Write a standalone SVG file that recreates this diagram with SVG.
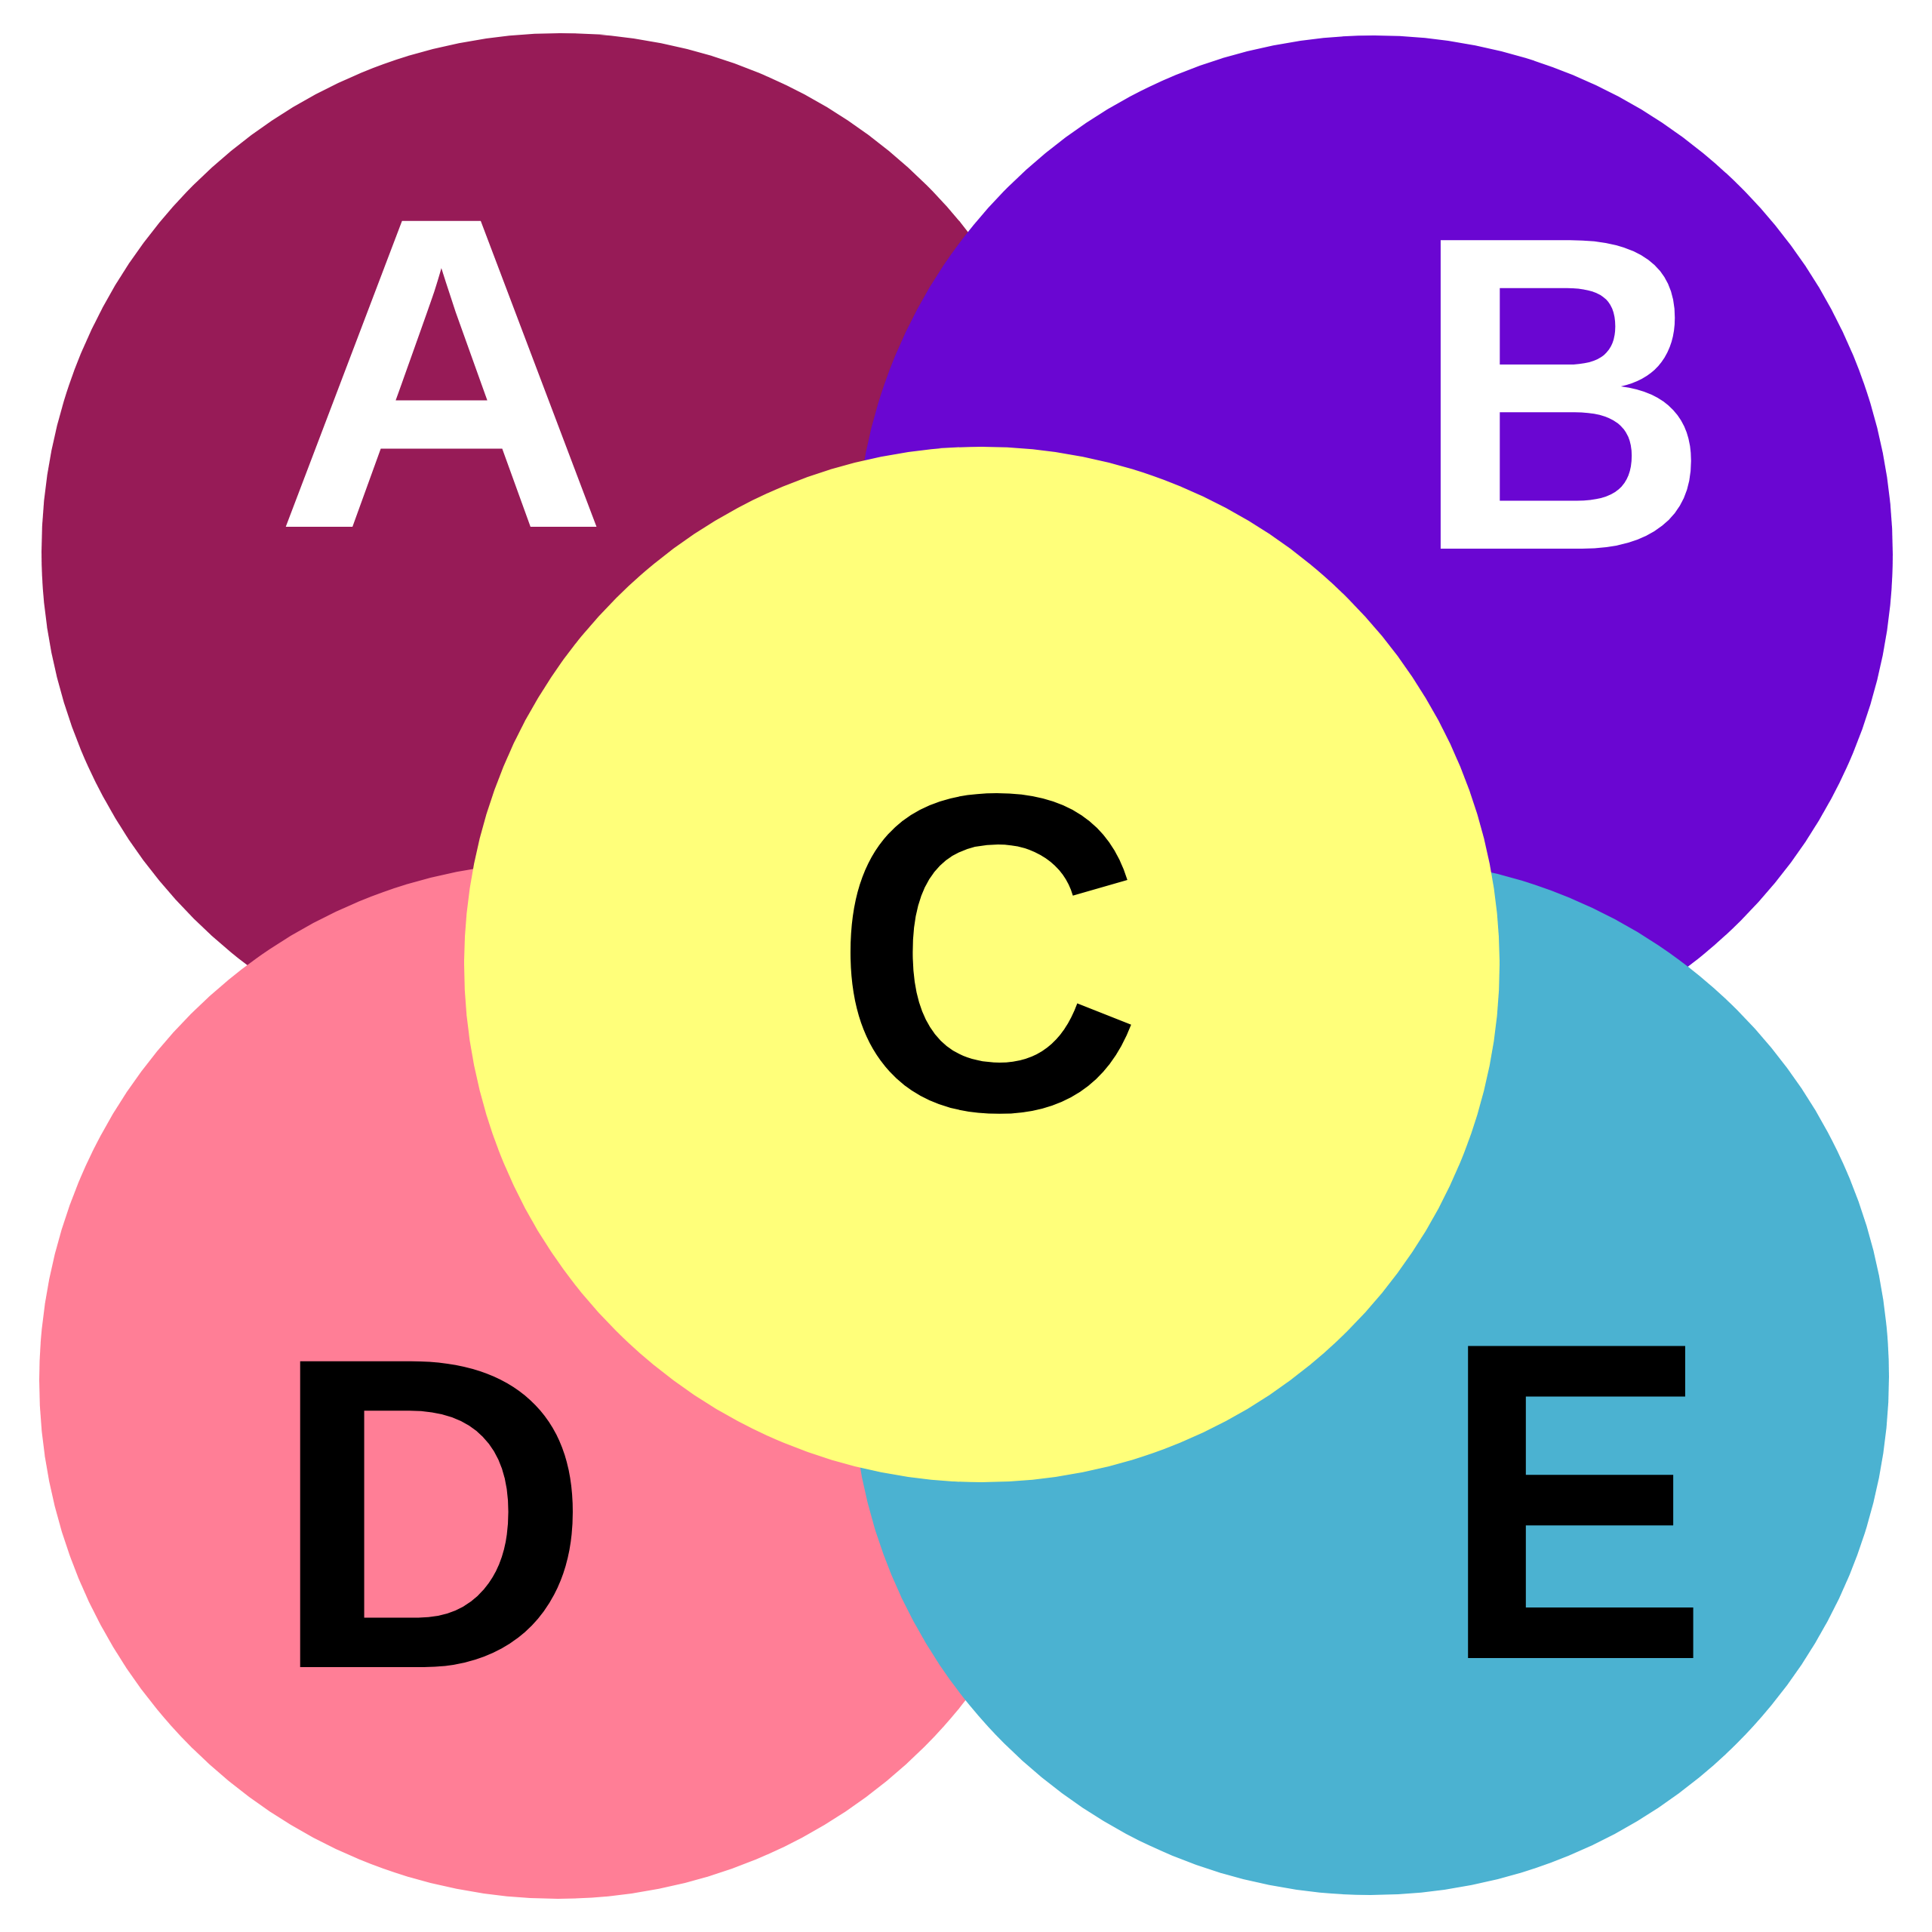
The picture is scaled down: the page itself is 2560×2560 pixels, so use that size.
<svg xmlns="http://www.w3.org/2000/svg" width="2560" height="2560" viewBox="0 0 2560 2560">
<style>
.lbl{font-family:"Liberation Sans",Arial,sans-serif;font-weight:bold;text-anchor:middle;}
.w{fill:#ffffff;}
.k{fill:#000000;}
</style>
<rect width="2560" height="2560" fill="#ffffff"/>
<g id="node-A"><circle cx="742" cy="731" r="687" fill="#971B57"/></g>
<g id="node-B"><circle cx="1821" cy="734" r="687" fill="#6A06D2"/></g>
<g id="node-D"><circle cx="739" cy="1829" r="687" fill="#FF7E96"/></g>
<g id="node-E"><circle cx="1816" cy="1824" r="687" fill="#4BB2D1"/></g>
<g id="node-C"><circle cx="1301" cy="1278" r="686" fill="#FFFF7A"/></g>
<g id="connectors"></g>
<g id="labels">
<text class="lbl w" font-size="589" transform="translate(585,698) scale(1.042,1)">A</text>
<text class="lbl w" font-size="594" transform="translate(2069,727) scale(0.916,1)">B</text>
<text class="lbl k" font-size="600" transform="translate(1309,1470) scale(0.948,1)">C</text>
<text class="lbl k" font-size="589" transform="translate(571,2209) scale(1.0,1)">D</text>
<text class="lbl k" font-size="601" transform="translate(2087,2197) scale(0.885,1)">E</text>
</g>
</svg>
